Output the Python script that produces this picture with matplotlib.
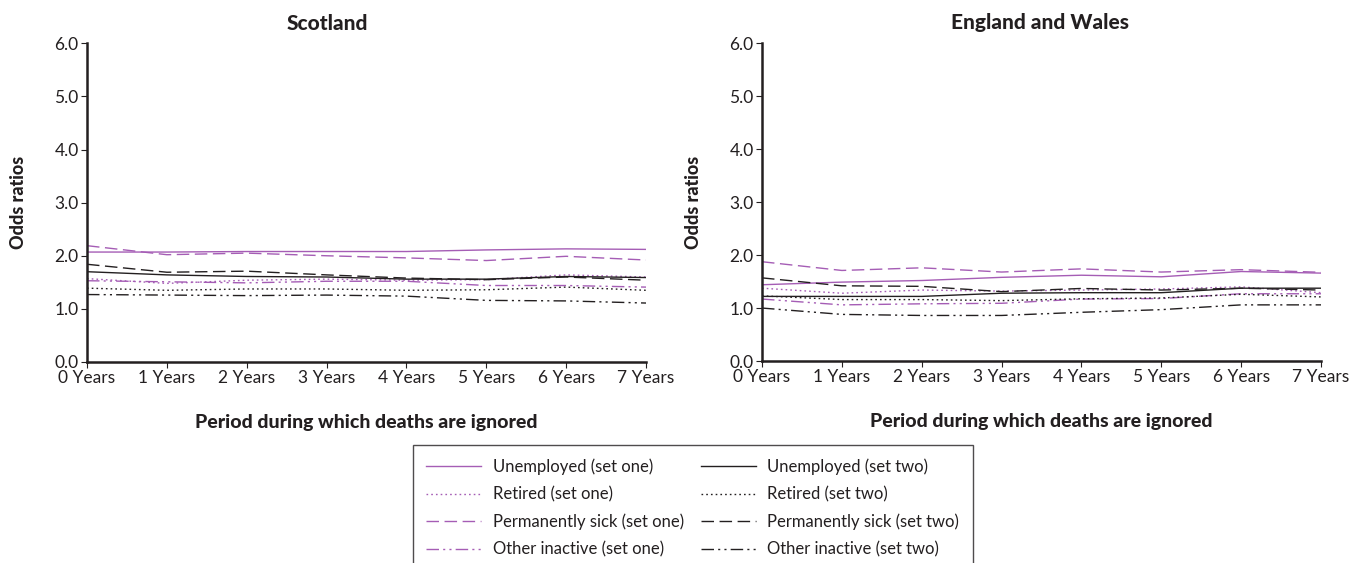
import matplotlib
matplotlib.use("Agg")
import matplotlib.pyplot as plt
from matplotlib.lines import Line2D

plt.rcParams['font.family'] = ['Lato', 'DejaVu Sans']

years = [0, 1, 2, 3, 4, 5, 6, 7]
xtick_labels = ["0 Years", "1 Years", "2 Years", "3 Years", "4 Years", "5 Years", "6 Years", "7 Years"]
yticks = [0.0, 1.0, 2.0, 3.0, 4.0, 5.0, 6.0]

# Scotland
sco_unemp1 = [2.07, 2.07, 2.08, 2.08, 2.08, 2.11, 2.13, 2.12]
sco_retired1 = [1.57, 1.48, 1.54, 1.56, 1.54, 1.55, 1.64, 1.60]
sco_sick1 = [2.19, 2.02, 2.05, 2.00, 1.96, 1.91, 1.99, 1.92]
sco_other1 = [1.53, 1.51, 1.49, 1.52, 1.52, 1.44, 1.44, 1.41]
sco_unemp2 = [1.70, 1.64, 1.61, 1.60, 1.56, 1.56, 1.61, 1.59]
sco_retired2 = [1.39, 1.35, 1.375, 1.375, 1.35, 1.36, 1.41, 1.35]
sco_sick2 = [1.84, 1.69, 1.71, 1.64, 1.58, 1.55, 1.60, 1.54]
sco_other2 = [1.27, 1.26, 1.25, 1.26, 1.24, 1.16, 1.15, 1.11]

# England and Wales
ew_unemp1 = [1.44, 1.49, 1.52, 1.58, 1.62, 1.59, 1.69, 1.66]
ew_retired1 = [1.375, 1.28, 1.34, 1.32, 1.34, 1.36, 1.40, 1.29]
ew_sick1 = [1.875, 1.71, 1.76, 1.68, 1.74, 1.68, 1.725, 1.675]
ew_other1 = [1.17, 1.06, 1.08, 1.09, 1.17, 1.18, 1.27, 1.27]
ew_unemp2 = [1.22, 1.22, 1.22, 1.28, 1.29, 1.29, 1.375, 1.375]
ew_retired2 = [1.23, 1.16, 1.16, 1.14, 1.175, 1.19, 1.26, 1.21]
ew_sick2 = [1.57, 1.42, 1.41, 1.31, 1.37, 1.34, 1.375, 1.34]
ew_other2 = [1.00, 0.88, 0.86, 0.86, 0.92, 0.97, 1.06, 1.06]

labels = ["Unemployed (set one)", "Retired (set one)", "Permanently sick (set one)", "Other inactive (set one)",
          "Unemployed (set two)", "Retired (set two)", "Permanently sick (set two)", "Other inactive (set two)"]

PURPLE = "#a55db5"
BLACK = "#231f20"
styles = [
    dict(color=PURPLE, ls="-"),
    dict(color=PURPLE, ls=(0, (1.2, 2.2))),
    dict(color=PURPLE, ls=(0, (9, 4))),
    dict(color=PURPLE, ls=(0, (9, 3, 1.5, 3, 1.5, 3))),
    dict(color=BLACK, ls="-"),
    dict(color=BLACK, ls=(0, (1.2, 2.2))),
    dict(color=BLACK, ls=(0, (9, 4))),
    dict(color=BLACK, ls=(0, (9, 3, 1.5, 3, 1.5, 3))),
]

W, H = 1349, 563
fig = plt.figure(figsize=(W / 100, H / 100), dpi=100)

def px_axes(left, right, top, bottom):
    return fig.add_axes([left / W, 1 - bottom / H, (right - left) / W, (bottom - top) / H])

ax1 = px_axes(87, 646, 43.3, 362)
ax2 = px_axes(762, 1321, 43.3, 361)

panels = [
    (ax1, [sco_unemp1, sco_retired1, sco_sick1, sco_other1, sco_unemp2, sco_retired2, sco_sick2, sco_other2], "Scotland", 327),
    (ax2, [ew_unemp1, ew_retired1, ew_sick1, ew_other1, ew_unemp2, ew_retired2, ew_sick2, ew_other2], "England and Wales", 1040),
]

for ax, series, title, tx in panels:
    for vals, st, lab in zip(series, styles, labels):
        ax.plot(years, vals, color=st["color"], linestyle=st["ls"], linewidth=1.0, label=lab)
    ax.set_xlim(0, 7)
    ax.set_ylim(0, 6)
    ax.set_xticks(years)
    ax.set_xticklabels(xtick_labels)
    ax.set_yticks(yticks)
    ax.set_yticklabels([f"{v:.1f}" for v in yticks])
    for s in ["top", "right"]:
        ax.spines[s].set_visible(False)
    for s in ["left", "bottom"]:
        ax.spines[s].set_linewidth(1.8)
        ax.spines[s].set_color(BLACK)
    ax.tick_params(axis="both", length=4, width=0.8, color=BLACK, labelsize=12.5, labelcolor=BLACK, pad=2)
    ax.set_ylabel("Odds ratios", fontsize=13, fontweight=900, color=BLACK, labelpad=20)
    ax.set_xlabel("Period during which deaths are ignored", fontsize=14, fontweight=900, color=BLACK, labelpad=20)
    fig.text(tx / W, 1 - 23 / H, title, ha="center", va="center", fontsize=15, fontweight=900, color=BLACK)

handles = [Line2D([0], [0], color=st["color"], linestyle=st["ls"], linewidth=1.0) for st in styles]
leg = fig.legend(handles, labels, loc="upper left", bbox_to_anchor=(413 / W, 1 - 445 / H),
                 ncol=2, fontsize=12, frameon=True, fancybox=False, handlelength=3.3,
                 handletextpad=0.7, columnspacing=1.0, labelspacing=0.68, borderpad=0.8,
                 borderaxespad=0)
leg.get_frame().set_edgecolor(BLACK)
leg.get_frame().set_linewidth(1.0)
for t in leg.get_texts():
    t.set_color(BLACK)

fig.savefig("out.png", dpi=100)
